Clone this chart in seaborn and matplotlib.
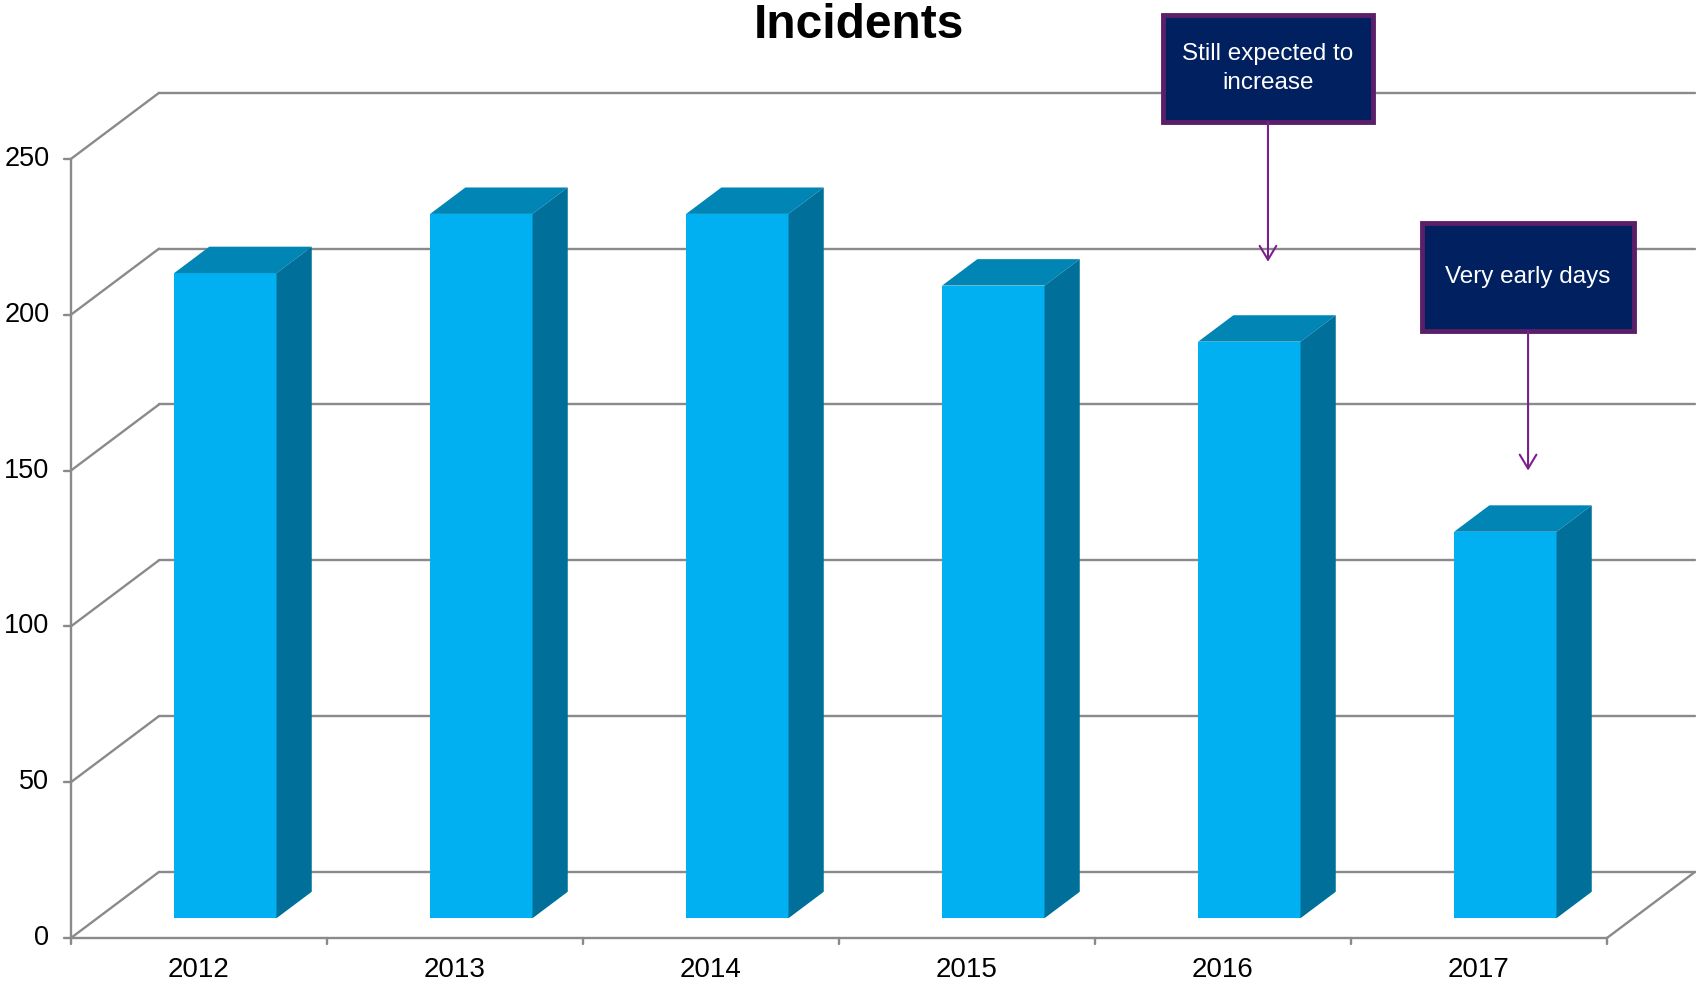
import numpy as np
import pandas as pd
import matplotlib
matplotlib.use('Agg')
import matplotlib.pyplot as plt
from matplotlib.patches import Rectangle
import seaborn as sns

# data
years = ['2012', '2013', '2014', '2015', '2016', '2017']
incidents = [207, 226, 226, 203, 185, 124]
y_ticks = [0, 50, 100, 150, 200, 250]

notes = ['Still expected to\nincrease', 'Very early days']
note_tips = [(4.176, 217), (5.192, 150)]
note_boxes = [(3.766, 261.9, 4.586, 296.2), (4.778, 194.8, 5.606, 229.5)]

# oblique "3D" geometry (depth offset in data units)
DX, DY = 0.344, 21.2
D0, D1 = 0.3, 0.7
BAR_W = 0.4

FRONT = '#00B0F0'
TOP = '#0085B4'
SIDE = '#006F99'
GRID = '#8A8A8A'

sns.set_style('white')
plt.rcParams['font.family'] = ['Liberation Sans', 'DejaVu Sans']
plt.rcParams['text.color'] = 'black'

df = pd.DataFrame({'year': years, 'incidents': incidents})

fig = plt.figure(figsize=(16.96, 9.83), dpi=100)
ax = fig.add_axes([0, 0, 1, 1])

# front faces
sns.barplot(data=df, x='year', y='incidents', color=FRONT, saturation=1,
            width=BAR_W, ax=ax, zorder=3)
for p in ax.patches:
    p.set_x(p.get_x() + D0 * DX)
    p.set_y(D0 * DY)
    p.set_edgecolor('none')

# tops and sides
for i, v in enumerate(incidents):
    l, r = i - BAR_W / 2, i + BAR_W / 2
    ax.fill([l + D0 * DX, r + D0 * DX, r + D1 * DX, l + D1 * DX],
            [v + D0 * DY, v + D0 * DY, v + D1 * DY, v + D1 * DY],
            color=TOP, lw=0, zorder=3)
    ax.fill([r + D0 * DX, r + D1 * DX, r + D1 * DX, r + D0 * DX],
            [D0 * DY, D1 * DY, v + D1 * DY, v + D0 * DY],
            color=SIDE, lw=0, zorder=3)

# walls and gridlines
x0, x1 = -0.5, len(years) - 0.5
for t in y_ticks:
    ax.plot([x0 + DX, x1 + DX], [t + DY, t + DY], color=GRID, lw=1.7, zorder=1)
    ax.plot([x0, x0 + DX], [t, t + DY], color=GRID, lw=1.7, zorder=1)
    ax.plot([x0 - 0.027, x0], [t, t], color=GRID, lw=1.7, zorder=1)
    ax.annotate(str(t), (x0, t), xytext=(-15.5, 0), textcoords='offset points',
                ha='right', va='center', fontsize=19.5, color='black')
ax.plot([x0, x0], [0, y_ticks[-1]], color=GRID, lw=1.7, zorder=1)
ax.plot([x0, x1], [0, 0], color=GRID, lw=1.7, zorder=1)
ax.plot([x1, x1 + DX], [0, DY], color=GRID, lw=1.7, zorder=1)
for b in np.arange(x0, x1 + 0.01, 1.0):
    ax.plot([b, b], [0, -2.0], color=GRID, lw=1.7, zorder=1)
for i, y in enumerate(years):
    ax.annotate(y, (i, 0), xytext=(0, -23), textcoords='offset points',
                ha='center', va='center', fontsize=20, color='black')

# callouts
for text, (tx, ty), (bx0, by0, bx1, by1) in zip(notes, note_tips, note_boxes):
    ax.add_patch(Rectangle((bx0, by0), bx1 - bx0, by1 - by0, facecolor='#012060',
                           edgecolor='#5B1F69', lw=3.5, zorder=5))
    ax.text((bx0 + bx1) / 2, (by0 + by1) / 2, text, color='white', fontsize=17.5,
            ha='center', va='center', linespacing=1.45, zorder=6)
    ax.annotate('', xy=(tx, ty), xytext=(tx, by0),
                arrowprops=dict(arrowstyle='->,head_width=0.3,head_length=0.5',
                                color='#7B1F8C', lw=1.5, mutation_scale=20,
                                shrinkA=0, shrinkB=0), zorder=6)

ax.text(2.578, 288.9, 'Incidents', ha='center', va='baseline', fontsize=34.5,
        fontweight='bold', color='black')

ax.set_xlim(-0.777, 5.848)
ax.set_ylim(-14.44, 301.0)
ax.axis('off')

fig.savefig('out.png', dpi=100)
